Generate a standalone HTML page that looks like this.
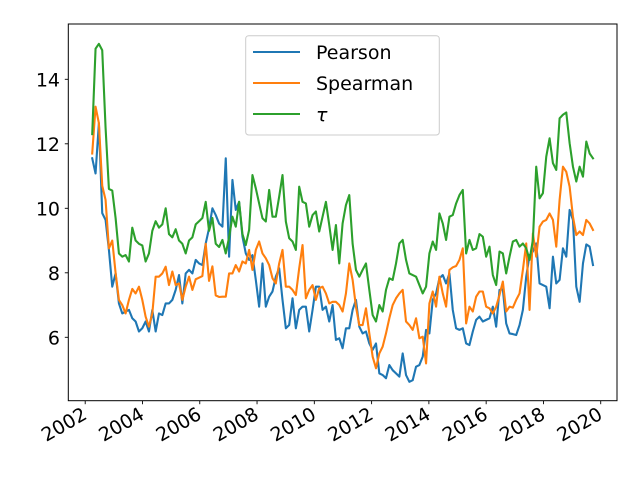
<!DOCTYPE html>
<html><head><meta charset="utf-8"><style>
body{margin:0;background:#fff}
svg{display:block;font-family:"DejaVu Sans","Liberation Sans",sans-serif}
</style></head><body>
<svg id="chart" width="640" height="480" viewBox="0 0 640 480">
<rect width="640" height="480" fill="#fff"/>
<g id="ticks"></g>
<g id="series"></g>
<rect x="68.3" y="24" width="548.7" height="376.7" fill="none" stroke="#000" stroke-width="1"/>
<g>
<rect x="245.7" y="35.7" width="193.6" height="99.3" rx="3" fill="#fff" fill-opacity="0.8" stroke="#ccc" stroke-width="1"/>
<g><line x1="253" y1="52" x2="300" y2="52" stroke="#1f77b4" stroke-width="2.1"/><text x="316" y="59" font-size="19" fill="#000">Pearson</text></g>
<g><line x1="253" y1="83" x2="300" y2="83" stroke="#ff7f0e" stroke-width="2.1"/><text x="316" y="90" font-size="19" fill="#000">Spearman</text></g>
<g><line x1="253" y1="114" x2="300" y2="114" stroke="#2ca02c" stroke-width="2.1"/><text x="316" y="121" font-size="19" font-style="italic" fill="#000">τ</text></g>
</g>
</svg>
<script>
const pearson = [11.55,11.08,12.64,9.85,9.64,8.71,7.57,7.98,7.05,6.74,6.80,6.85,6.59,6.49,6.18,6.28,6.49,6.18,6.85,6.18,6.74,6.69,7.05,7.05,7.16,7.47,7.93,7.05,7.98,8.09,7.98,8.40,8.29,8.24,8.91,9.38,10.0,9.79,9.53,
9.43,11.55,8.5,10.88,9.95,10.2,9.12,8.6,8.4,8.55,7.78,6.95,8.29,6.95,7.26,7.42,7.88,8.14,7.16,6.28,6.38,7.21,6.28,6.85,6.95,6.95,6.18,6.85,7.57,7.57,6.85,6.95,6.49,7.0,5.92,5.97,5.66,6.28,6.28,6.85,
7.16,6.33,6.12,6.18,5.81,5.61,5.81,4.88,4.83,4.73,5.14,4.98,4.88,4.78,5.5,4.83,4.62,4.67,5.09,5.14,5.4,6.23,6.12,7.16,7.36,7.83,7.93,7.67,7.98,6.85,6.28,6.23,6.28,5.81,5.76,6.18,6.54,6.64,6.49,6.54,6.59,
6.95,6.33,7.47,7.49,6.43,6.12,6.1,6.07,6.38,6.85,7.88,8.55,8.66,8.91,7.67,7.62,7.57,6.9,8.5,7.67,7.78,8.76,8.5,9.95,9.64,7.57,7.1,8.29,8.88,8.81,8.24];
const spearman = [11.7,13.15,12.64,10.7,10.26,8.76,9.0,8.0,7.16,7.0,6.74,7.16,7.5,7.36,7.57,7.16,6.64,6.33,6.74,7.88,7.88,7.98,8.19,7.62,8.04,7.62,7.67,7.16,7.57,7.88,7.47,7.8,7.85,7.9,8.9,7.75,8.2,7.3,7.25,
7.26,7.26,7.98,7.98,8.24,8.04,8.35,8.29,8.71,8.09,8.71,8.97,8.6,8.45,8.24,7.83,7.67,8.29,8.71,7.57,7.57,7.47,7.31,8.14,8.86,7.21,7.47,7.62,7.16,7.52,7.57,7.36,7.05,7.1,7.1,7.0,6.8,7.36,8.29,7.78,
6.95,6.38,6.38,6.9,6.12,5.4,5.04,5.5,5.71,6.12,6.59,7.0,7.21,7.36,7.47,6.49,6.38,6.23,6.59,5.97,6.02,5.19,7.05,7.42,6.95,7.88,7.36,6.95,8.09,8.17,8.21,8.4,8.76,6.43,6.95,6.8,7.26,7.42,7.42,6.95,6.9,
6.74,6.95,7.31,7.73,6.8,6.95,6.92,7.16,7.36,8.09,8.91,6.85,9.22,8.5,9.43,9.59,9.64,9.84,9.64,8.81,10.26,11.29,11.13,10.67,9.74,9.17,9.28,9.17,9.64,9.53,9.33];
const tau = [12.3,14.95,15.1,14.9,12.5,10.6,10.55,9.7,8.6,8.5,8.55,8.35,9.4,9.0,8.9,8.85,8.35,8.6,9.3,9.6,9.4,9.5,10.0,9.2,9.1,9.35,9.0,8.9,8.6,9.0,9.1,9.5,9.6,9.7,10.2,9.3,9.7,8.9,8.8,
9.02,8.6,9.1,9.74,9.43,10.2,9.2,8.86,9.33,11.03,10.62,10.15,9.69,9.59,10.57,9.74,9.74,10.36,11.03,9.59,9.07,8.97,8.71,10.67,10.2,10.15,9.43,9.79,9.9,9.28,9.74,10.2,9.48,8.71,9.48,8.29,9.53,10.1,10.41,8.9,
8.09,7.88,8.09,8.29,7.47,6.69,6.49,7.0,6.8,7.47,7.83,7.78,8.29,8.91,9.02,8.4,7.98,7.93,7.88,7.62,7.36,7.57,8.6,8.97,8.71,9.84,9.53,9.02,9.74,9.79,10.15,10.41,10.57,8.6,9.02,8.71,8.76,9.2,9.12,8.5,8.81,
7.93,7.62,8.66,8.6,7.98,8.5,8.97,9.02,8.81,8.91,8.76,8.4,9.02,11.29,10.31,10.47,11.6,12.17,11.4,11.19,12.79,12.9,12.97,12.02,11.29,10.83,11.29,10.98,12.07,11.7,11.55];
const startYear = 2002.245;
const endYear = 2019.73;
const xTicks = [2002,2004,2006,2008,2010,2012,2014,2016,2018,2020];
const yTicks = [6,8,10,12,14];

const NS = "http://www.w3.org/2000/svg";
function xs(t){ return 85.2 + (t - 2002) * 28.64; }
function ys(v){ return 337.3 - (v - 6) * 32.25; }
function dateAt(i, n){ return startYear + (endYear - startYear) * i / (n - 1); }

const tg = document.getElementById('ticks');
xTicks.forEach(function(t){
  const x = xs(t);
  const l = document.createElementNS(NS,'line');
  l.setAttribute('x1',x); l.setAttribute('x2',x); l.setAttribute('y1',400.7); l.setAttribute('y2',404.2);
  l.setAttribute('stroke','#000'); l.setAttribute('stroke-width','0.9');
  
  
  tg.appendChild(l);
  const tx = document.createElementNS(NS,'text');
  const ax = x + 3, ay = 418;
  tx.setAttribute('x',ax); tx.setAttribute('y',ay);
  tx.setAttribute('text-anchor','end'); tx.setAttribute('font-size','19');
  tx.setAttribute('transform','rotate(-30 '+ax+' '+ay+')');
  tx.textContent = t;
  
  
  tg.appendChild(tx);
});
yTicks.forEach(function(v){
  const y = ys(v);
  const l = document.createElementNS(NS,'line');
  l.setAttribute('x1',64.8); l.setAttribute('x2',68.3); l.setAttribute('y1',y); l.setAttribute('y2',y);
  l.setAttribute('stroke','#000'); l.setAttribute('stroke-width','0.9');
  
  
  tg.appendChild(l);
  const tx = document.createElementNS(NS,'text');
  tx.setAttribute('x',60); tx.setAttribute('y',y+7);
  tx.setAttribute('text-anchor','end'); tx.setAttribute('font-size','19');
  tx.textContent = v;
  
  
  tg.appendChild(tx);
});

const sg = document.getElementById('series');
function drawSeries(vals, color, name){
  const pts = vals.map(function(v,i){ return xs(dateAt(i, vals.length)).toFixed(2)+','+ys(v).toFixed(2); }).join(' ');
  const p = document.createElementNS(NS,'polyline');
  p.setAttribute('points', pts);
  p.setAttribute('fill','none'); p.setAttribute('stroke',color);
  p.setAttribute('stroke-width','2.1'); p.setAttribute('stroke-linejoin','round'); p.setAttribute('stroke-linecap','square');
  
  
  sg.appendChild(p);
}
drawSeries(pearson, '#1f77b4', 'pearson-line');
drawSeries(spearman, '#ff7f0e', 'spearman-line');
drawSeries(tau, '#2ca02c', 'tau-line');
</script>
</body></html>
